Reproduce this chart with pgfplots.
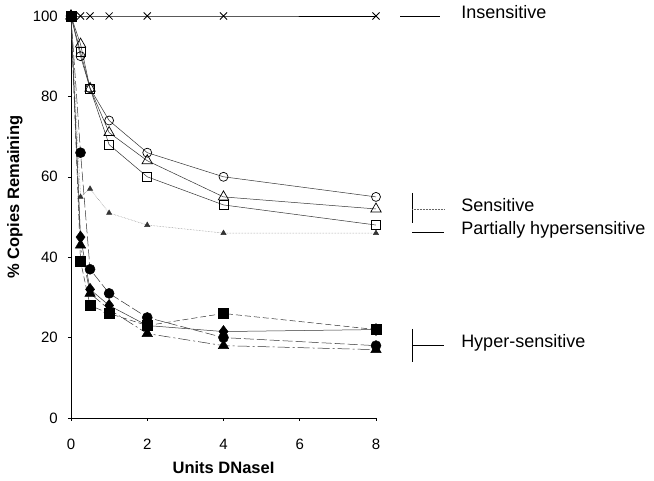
\documentclass[border=0pt]{standalone}
\usepackage{fontspec}
\setmainfont{Liberation Sans}
\usepackage{pgfplots}
\pgfplotsset{compat=1.18}
\begin{document}
\begin{tikzpicture}
\path[use as bounding box] (-71pt,-63pt) rectangle (583pt,418pt);
\begin{axis}[
  at={(0pt,0pt)}, anchor=south west,
  scale only axis, width=305pt, height=402pt,
  xmin=0, xmax=8, ymin=0, ymax=100,
  axis lines=left, axis line style={-, line width=0.6pt},
  xtick={0,2,4,6,8}, ytick={0,20,...,100},
  tick align=outside, major tick length=3pt,
  tick style={black, line width=0.5pt},
  clip=false,
  /pgf/number format/assume math mode=true,
  ticklabel style={font=\fontsize{15}{17}\selectfont, inner sep=0pt},
  xticklabel style={anchor=base, yshift=-29pt},
  yticklabel style={anchor=east, xshift=-10pt},
  xlabel={\fontsize{16.5}{18}\selectfont\bfseries Units DNaseI},
  ylabel={\fontsize{16.5}{18}\selectfont\bfseries \% Copies Remaining},
  xlabel style={at={(axis description cs:0.5,-0.124)}, anchor=center},
  ylabel style={at={(axis description cs:-0.184,0.55)}, anchor=center},
]
% Insensitive
\addplot[black, line width=0.5pt, mark=x, mark size=5pt, mark options={line width=0.8pt}]
  coordinates {(0,100)(0.25,100)(0.5,100)(1,100)(2,100)(4,100)(8,100)};
% open series
\addplot[black!80, line width=0.5pt, mark=o, mark size=4.5pt, mark options={black, fill=white, line width=0.7pt}]
  coordinates {(0,100)(0.25,90)(0.5,82)(1,74)(2,66)(4,60)(8,55)};
\addplot[black!80, line width=0.5pt, mark=triangle, mark size=6pt, mark options={black, fill=white, line width=0.7pt}]
  coordinates {(0,100)(0.25,93)(0.5,82)(1,71)(2,64)(4,55)(8,52)};
\addplot[black!80, line width=0.5pt, mark=square, mark size=4.5pt, mark options={black, fill=white, line width=0.7pt}]
  coordinates {(0,100)(0.25,91)(0.5,82)(1,68)(2,60)(4,53)(8,48)};
% partially hypersensitive
\addplot[black!50, line width=0.5pt, densely dotted, mark=triangle*, mark size=3pt, mark options={solid, black!80}]
  coordinates {(0,100)(0.25,55)(0.5,57)(1,51)(2,48)(4,46)(8,46)};
% hypersensitive
\addplot[black!80, line width=0.5pt, dash pattern=on 10pt off 3pt, mark=*, mark size=5pt, mark options={solid, black}]
  coordinates {(0,100)(0.25,66)(0.5,37)(1,31)(2,25)(4,20)(8,18)};
\addplot[black!80, line width=0.5pt, mark=diamond*, mark size=6pt, mark options={solid, black}]
  coordinates {(0,100)(0.25,45)(0.5,32)(1,28)(2,23)(4,21.5)(8,22)};
\addplot[black!80, line width=0.5pt, dash pattern=on 12pt off 3pt on 2pt off 3pt, mark=triangle*, mark size=6pt, mark options={solid, black}]
  coordinates {(0,100)(0.25,43)(0.5,31)(1,27)(2,21)(4,18)(8,17)};
\addplot[black!80, line width=0.5pt, dash pattern=on 6pt off 3pt, mark=square*, mark size=5pt, mark options={solid, black}]
  coordinates {(0,100)(0.25,39)(0.5,28)(1,26)(2,23)(4,26)(8,22)};
\end{axis}
% category annotations
\begin{scope}[font=\fontsize{18}{20}\selectfont, line width=0.5pt]
\draw (329pt,402pt) -- (369pt,402pt);
\node[anchor=mid west, inner sep=0pt] at (390pt,402pt) {Insensitive};
\draw (341pt,225pt) -- (341pt,195pt);
\draw[black!60, densely dotted] (341pt,209pt) -- (373pt,209pt);
\node[anchor=mid west, inner sep=0pt] at (390pt,209pt) {Sensitive};
\draw (341pt,186pt) -- (373pt,186pt);
\node[anchor=mid west, inner sep=0pt] at (390pt,186pt) {Partially hypersensitive};
\draw (341pt,89pt) -- (341pt,56pt);
\draw (341pt,73pt) -- (373pt,73pt);
\node[anchor=mid west, inner sep=0pt] at (390pt,73pt) {Hyper-sensitive};
\end{scope}
\end{tikzpicture}
\end{document}
